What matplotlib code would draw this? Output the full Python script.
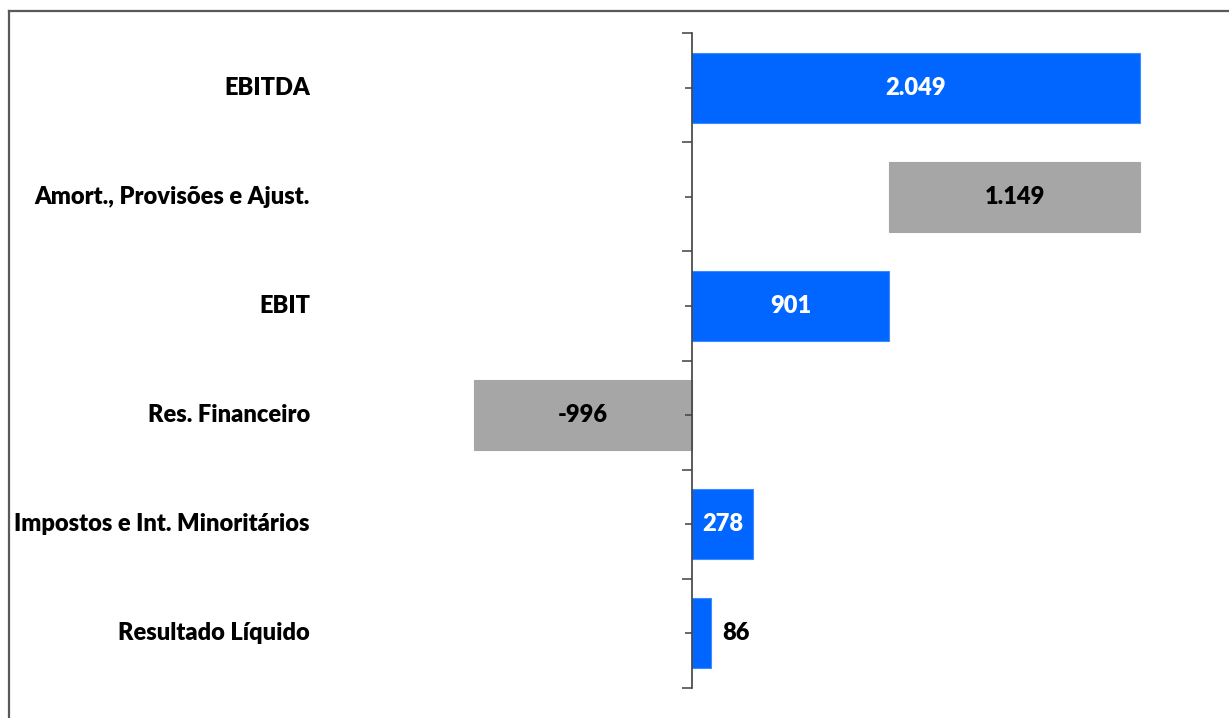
import matplotlib
matplotlib.use('Agg')
import matplotlib.pyplot as plt
from matplotlib.lines import Line2D
from matplotlib.transforms import blended_transform_factory

plt.rcParams['font.family'] = ['Lato', 'DejaVu Sans']

# dados
categorias = ['EBITDA', 'Amort., Provisões e Ajust.', 'EBIT', 'Res. Financeiro',
              'Impostos e Int. Minoritários', 'Resultado Líquido']
inicio = [0, 901, 0, 0, 0, 0]
valores = [2049, 1149, 901, -996, 278, 86]
rotulos = ['2.049', '1.149', '901', '-996', '278', '86']
tipo = ['total', 'delta', 'total', 'delta', 'total', 'total']

azul = '#0066FF'
cinza = '#A6A6A6'
cores = [azul if t == 'total' else cinza for t in tipo]

fs = 17
peso = 'heavy'

fig = plt.figure(figsize=(12.29, 7.18), dpi=100)
W, H = 1229, 718
# area do grafico em pixels: x 330..1180, y 33..688
ax = fig.add_axes([330 / W, (H - 688) / H, 850 / W, 655 / H])

escala = 448 / 2049  # px por unidade
ax.set_xlim((330 - 692) / escala, (1180 - 692) / escala)
ax.set_ylim(5.5, -0.5)

y = list(range(len(categorias)))
ax.barh(y, valores, left=inicio, height=0.64, color=cores,
        edgecolor=[('#3D8BFF' if c == azul else cinza) for c in cores], linewidth=0.8)

for i, (ini, v, txt) in enumerate(zip(inicio, valores, rotulos)):
    if abs(v) < 150:
        ax.text(ini + v + 11 / escala, i, txt, ha='left', va='center',
                fontsize=fs, fontweight=peso, color='black')
    else:
        cor_txt = 'white' if cores[i] == azul else 'black'
        ax.text(ini + v / 2, i, txt, ha='center', va='center',
                fontsize=fs, fontweight=peso, color=cor_txt)

# rotulos das categorias
trans = blended_transform_factory(fig.transFigure, ax.transData)
for i, cat in enumerate(categorias):
    ax.text(310 / W, i, cat, transform=trans, ha='right', va='center',
            fontsize=fs, fontweight=peso, color='black')

# eixo
for s in ['top', 'right', 'bottom']:
    ax.spines[s].set_visible(False)
ax.spines['left'].set_position(('data', 0))
ax.spines['left'].set_color('#404040')
ax.spines['left'].set_linewidth(1.2)
ax.set_xticks([])
ax.set_yticks([i - 0.5 for i in range(len(categorias) + 1)])
ax.set_yticks(y, minor=True)
ax.tick_params(axis='y', which='major', direction='out', length=7.2, width=1.1,
               color='#404040', labelleft=False)
ax.tick_params(axis='y', which='minor', direction='out', length=5, width=1.1,
               color='#404040', labelleft=False)

# moldura
fig.add_artist(Line2D([9 / W, 1], [1 - 11 / H, 1 - 11 / H], color='#595959', linewidth=1.6,
                      transform=fig.transFigure))
fig.add_artist(Line2D([9 / W, 9 / W], [0, 1 - 11 / H], color='#595959', linewidth=1.6,
                      transform=fig.transFigure))

plt.savefig('out.png', dpi=100)
